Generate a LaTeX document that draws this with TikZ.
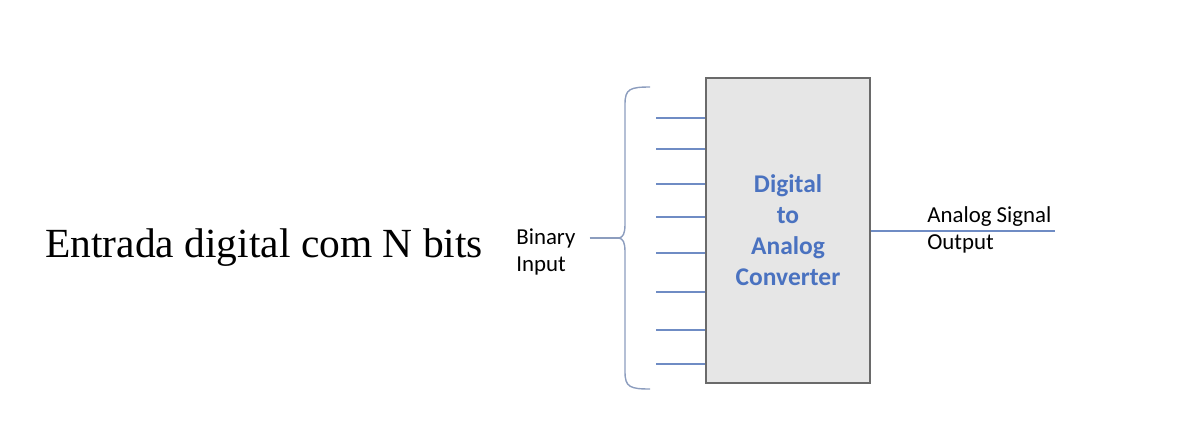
\documentclass[tikz,border=0pt]{standalone}
\usepackage{fontspec}
\setmainfont{Liberation Serif}
\newfontfamily\calibri{Carlito}
\usepackage{tikz}
\usetikzlibrary{positioning}
\definecolor{wire}{HTML}{6F8CC4}
\definecolor{bracecol}{HTML}{8C9DBE}
\definecolor{dactext}{HTML}{4A72C0}
\definecolor{boxfill}{HTML}{E6E6E6}
\definecolor{boxline}{HTML}{6A6A6A}

\begin{document}
\begin{tikzpicture}[
        x=0.02cm, y=-0.02cm,
        wireline/.style={draw=wire, line width=0.7pt},
        label/.style={font=\calibri\fontsize{13}{15.8}\selectfont, align=left, inner sep=0pt}
        ]
        \useasboundingbox (0,0) rectangle (1195,444);
        % Nodes
        \node (dac) [draw=boxline, fill=boxfill, line width=0.8pt, minimum width=164*0.02cm, minimum height=305*0.02cm,
            align=center, text=dactext, font=\calibri\bfseries\fontsize{14.5}{17.6}\selectfont] at (788,230.5)
            {Digital\\to\\Analog\\Converter};
        \node (title) [anchor=west, inner sep=0pt, font=\fontsize{23.6}{28}\selectfont] at (45,248) {Entrada digital com N bits};
        \node (binin) [label, anchor=west] at (516,252) {Binary\\Input};
        \node (outlbl) [label, anchor=west] at (927,230) {Analog Signal\\Output};
        \coordinate (tip) at (619,238);
        \coordinate (outend) at (1055,231);

        % Brace
        \draw[bracecol, line width=0.8pt] (650,87) .. controls (630,87) and (625,89) .. (625,104) -- (625,224)
            .. controls (625,234) and (623,237) .. (tip)
            .. controls (623,239) and (625,242) .. (625,252) -- (625,372)
            .. controls (625,387) and (630,389) .. (650,389);

        % Arrows
        \foreach \y [count=\i] in {118,149,184,217,253,292,330,364} {
            \coordinate (in\i) at (656,\y);
            \draw[wireline] (in\i) -- (in\i -| dac.west);
        }
        \coordinate (binend) at ([xshift=14*0.02cm]binin.east |- tip);
        \draw[bracecol, line width=0.8pt] (binend) -- (tip);
        \draw[wireline] (outend -| dac.east) -- (outend);
    \end{tikzpicture}
\end{document}
